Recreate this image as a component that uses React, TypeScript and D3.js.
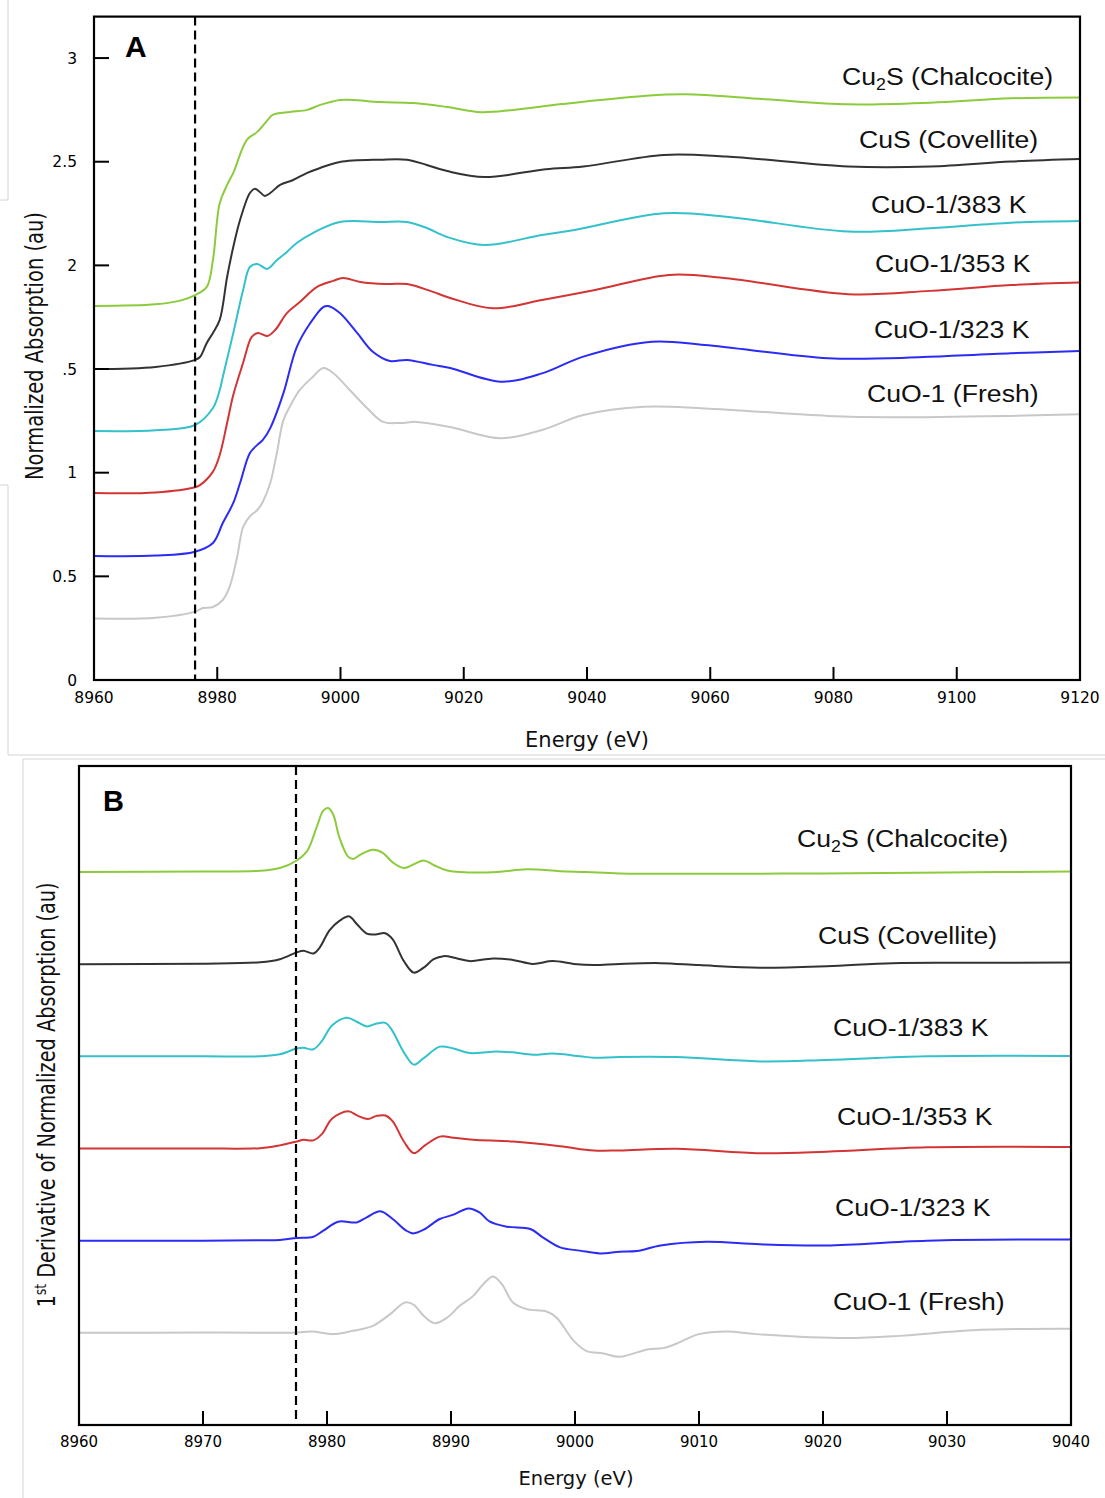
import React from 'react';
import * as d3 from 'd3';

// ---------- Series meta ----------
const seriesNames = ['Cu2S (Chalcocite)', 'CuS (Covellite)', 'CuO-1/383 K', 'CuO-1/353 K', 'CuO-1/323 K', 'CuO-1 (Fresh)'];
const seriesColors = ['#8CCB3C', '#333333', '#33C1CB', '#D33434', '#2B2BF5', '#C8C8C8'];

// ---------- Panel A: normalized absorption [energy eV, au] ----------
const absCu2S: [number, number][] = [
  [8960, 1.804], [8970, 1.812], [8974, 1.83], [8976.4, 1.857], [8978.3, 1.896], [8979.3, 2.026], [8980.4, 2.3],
  [8981.6, 2.388], [8982.6, 2.446], [8984.8, 2.605], [8986.5, 2.644], [8988.2, 2.702], [8989, 2.726], [8991.8, 2.74],
  [8994.6, 2.75], [8996.7, 2.774], [8999.9, 2.798], [9002, 2.798], [9006.4, 2.788], [9011.8, 2.783], [9017.3, 2.764],
  [9022.8, 2.739], [9028, 2.75], [9035.9, 2.778], [9049.2, 2.817], [9055.9, 2.825], [9069, 2.801], [9082.4, 2.777],
  [9095.7, 2.785], [9108.8, 2.806], [9120, 2.81],
];
const absCuS: [number, number][] = [
  [8960, 1.5], [8970, 1.51], [8976.4, 1.544], [8977.2, 1.558], [8978.3, 1.626], [8979.3, 1.674], [8980.4, 1.737],
  [8981.6, 1.944], [8982.6, 2.089], [8983.7, 2.219], [8985.3, 2.349], [8986.1, 2.369], [8986.9, 2.354], [8987.7, 2.335],
  [8988.6, 2.349], [8990.2, 2.388], [8992.3, 2.412], [8994.6, 2.446], [8996.7, 2.47], [8999.9, 2.499], [9006.4, 2.51],
  [9010.8, 2.51], [9014, 2.484], [9017.3, 2.455], [9023.4, 2.426], [9033.3, 2.464], [9039.4, 2.477], [9052.5, 2.533],
  [9062.6, 2.525], [9082.4, 2.477], [9095.7, 2.477], [9108.8, 2.501], [9120, 2.513],
];
const absCuO383: [number, number][] = [
  [8960, 1.201], [8970, 1.205], [8976.4, 1.23], [8979.3, 1.312], [8980.4, 1.399], [8980.9, 1.462], [8982.6, 1.674],
  [8984.2, 1.881], [8985.3, 1.992], [8986.5, 2.007], [8988.1, 1.983], [8989.7, 2.026], [8991.3, 2.065], [8992.9, 2.108],
  [8995.5, 2.156], [8999.9, 2.209], [9006.4, 2.209], [9010.8, 2.209], [9014, 2.18], [9017.3, 2.137], [9023.4, 2.098],
  [9032.7, 2.147], [9038, 2.171], [9052.5, 2.251], [9062.6, 2.235], [9082.4, 2.163], [9095.7, 2.179], [9108.8, 2.206],
  [9120, 2.214],
];
const absCuO353: [number, number][] = [
  [8960, 0.902], [8970, 0.905], [8976.4, 0.93], [8977.2, 0.94], [8979.3, 1.005], [8980.4, 1.085], [8981.6, 1.24],
  [8982.6, 1.375], [8984.2, 1.53], [8985.6, 1.655], [8986.6, 1.674], [8988.1, 1.659], [8989.4, 1.688], [8991.3, 1.77],
  [8993.4, 1.823], [8996.2, 1.896], [8998.8, 1.925], [9000.4, 1.939], [9003.2, 1.92], [9007.5, 1.91], [9010.8, 1.91],
  [9015, 1.872], [9017.8, 1.843], [9024.7, 1.793], [9032.7, 1.833], [9041.3, 1.881], [9053.3, 1.954], [9062.6, 1.938],
  [9082.4, 1.861], [9095.7, 1.877], [9108.8, 1.905], [9120, 1.917],
];
const absCuO323: [number, number][] = [
  [8960, 0.598], [8970, 0.6], [8976.4, 0.619], [8979.3, 0.661], [8980.9, 0.757], [8982.6, 0.854], [8983.7, 0.95],
  [8985.3, 1.095], [8986.5, 1.134], [8987.4, 1.158], [8988.6, 1.215], [8990.7, 1.38], [8992.9, 1.606], [8995.1, 1.722],
  [8997.2, 1.799], [8998, 1.804], [8999.9, 1.77], [9002.7, 1.674], [9005.3, 1.582], [9008, 1.539], [9010.8, 1.544],
  [9015, 1.52], [9017.8, 1.505], [9026, 1.439], [9032.7, 1.479], [9039.4, 1.56], [9050.5, 1.632], [9059.1, 1.616],
  [9079.1, 1.552], [9089, 1.552], [9108.8, 1.576], [9120, 1.587],
];
const absFresh: [number, number][] = [
  [8960, 0.297], [8970, 0.3], [8976.4, 0.33], [8977.7, 0.347], [8979.3, 0.352], [8980.9, 0.386], [8982, 0.449],
  [8983.2, 0.59], [8984.2, 0.738], [8985.3, 0.79], [8986.5, 0.82], [8987.4, 0.86], [8988.6, 0.95], [8989.7, 1.1],
  [8990.7, 1.25], [8991.8, 1.32], [8993.4, 1.399], [8995.5, 1.462], [8997.2, 1.505], [8998.8, 1.481], [9001.5, 1.399],
  [9004.3, 1.312], [9006.9, 1.245], [9009.7, 1.24], [9012.4, 1.245], [9017.8, 1.22], [9026, 1.166], [9032.7, 1.206],
  [9039.4, 1.278], [9049.2, 1.318], [9059.1, 1.31], [9079.1, 1.274], [9089, 1.267], [9108.8, 1.274], [9120, 1.282],
];

// ---------- Panel B: 1st derivative [energy eV, au] (before stacking offset) ----------
const derivCu2S: [number, number][] = [
  [8960, 0], [8970, 0.005], [8974.6, 0.013], [8976.2, 0.043], [8977.56, 0.125], [8978.4, 0.228], [8979.2, 0.499],
  [8979.7, 0.665], [8980.1, 0.694], [8980.5, 0.624], [8981, 0.374], [8981.7, 0.167], [8982.1, 0.141], [8982.7, 0.188],
  [8983.7, 0.242], [8984.5, 0.208], [8985.3, 0.104], [8986.2, 0.043], [8987, 0.084], [8987.8, 0.125], [8988.6, 0.076],
  [8989.7, 0.017], [8993.4, -0.003], [8996.1, 0.029], [8998.8, 0.009], [9000.9, 0], [9003.6, -0.015], [9010, -0.02],
  [9020, -0.015], [9030, -0.005], [9040, 0.005],
];
const derivCuS: [number, number][] = [
  [8960, 0], [8970, 0.005], [8974.6, 0.021], [8976.2, 0.054], [8977.56, 0.128], [8978.1, 0.145], [8978.9, 0.116],
  [8979.4, 0.178], [8980.2, 0.366], [8981, 0.469], [8981.8, 0.518], [8982.4, 0.436], [8983.2, 0.332], [8983.9, 0.323],
  [8984.7, 0.336], [8985.3, 0.269], [8986.2, 0.033], [8987, -0.092], [8987.8, -0.038], [8988.6, 0.054], [8989.4, 0.087],
  [8990.5, 0.062], [8991.5, 0.033], [8993.4, 0.062], [8995, 0.046], [8996.6, 0.003], [8998.2, 0.033], [8999.9, 0.003],
  [9001.5, -0.009], [9003.6, 0.003], [9006.9, 0.011], [9010, -0.01], [9014.9, -0.038], [9020.3, -0.022],
  [9025.6, 0.011], [9032, 0.015], [9040, 0.018],
];
const derivCuO383: [number, number][] = [
  [8960, 0], [8970, 0], [8974.6, 0.001], [8976.2, 0.022], [8977.56, 0.085], [8978.1, 0.093], [8978.9, 0.076],
  [8979.6, 0.168], [8980.4, 0.334], [8981.6, 0.418], [8982.4, 0.375], [8983.2, 0.325], [8984, 0.355], [8984.7, 0.363],
  [8985.2, 0.293], [8986.2, 0.043], [8987, -0.09], [8987.8, -0.02], [8989.1, 0.105], [8990.2, 0.085], [8991.5, 0.035],
  [8993.4, 0.051], [8995, 0.043], [8996.6, 0.018], [8998.2, 0.03], [9000.4, 0.001], [9001.5, -0.015], [9003.6, -0.007],
  [9008.2, -0.008], [9014.9, -0.055], [9020.3, -0.039], [9028.4, 0.001], [9040, 0.004],
];
const derivCuO353: [number, number][] = [
  [8960, 0], [8970, 0], [8974.6, 0.004], [8976.2, 0.034], [8977.56, 0.076], [8978.1, 0.095], [8978.9, 0.088],
  [8979.6, 0.158], [8980.4, 0.324], [8981.7, 0.403], [8982.5, 0.354], [8983.3, 0.32], [8984, 0.354], [8984.7, 0.358],
  [8985.3, 0.295], [8986.2, 0.076], [8987, -0.05], [8987.9, 0.034], [8989.1, 0.129], [8990.2, 0.117], [8991.8, 0.095],
  [8995, 0.076], [8998.8, 0.025], [9001.5, -0.022], [9003.6, -0.021], [9008.2, -0.003], [9014.9, -0.051],
  [9020.3, -0.035], [9028.4, 0.013], [9040, 0.017],
];
const derivCuO323: [number, number][] = [
  [8960, 0], [8970, 0], [8974.6, 0.005], [8976.2, 0.008], [8977.56, 0.029], [8978.9, 0.043], [8979.7, 0.108],
  [8980.9, 0.206], [8982.4, 0.198], [8983.2, 0.253], [8984.3, 0.318], [8985.3, 0.235], [8986.4, 0.108], [8986.96, 0.079],
  [8987.8, 0.119], [8989.1, 0.235], [8990.2, 0.282], [8991.4, 0.35], [8992.3, 0.307], [8993.1, 0.209], [8994.5, 0.152],
  [8996.4, 0.127], [8997.4, 0.036], [8998.8, -0.073], [9000.4, -0.108], [9002, -0.138], [9003.6, -0.12], [9005, -0.113],
  [9006.9, -0.052], [9010.6, -0.012], [9014.9, -0.04], [9020.3, -0.052], [9028.4, 0], [9040, 0.012],
];
const derivFresh: [number, number][] = [
  [8960, 0], [8970, 0.003], [8976.2, 0], [8977.56, 0.003], [8978.8, 0.014], [8980.5, -0.014], [8982.1, 0.022],
  [8983.7, 0.076], [8985.1, 0.203], [8986.3, 0.329], [8987, 0.304], [8987.8, 0.184], [8988.7, 0.105], [8989.7, 0.166],
  [8990.7, 0.293], [8991.8, 0.401], [8992.6, 0.528], [8993.4, 0.611], [8994.1, 0.528], [8995, 0.329], [8996.1, 0.257],
  [8997.7, 0.231], [8998.5, 0.166], [8999.9, -0.087], [9000.9, -0.195], [9002.3, -0.225], [9003.6, -0.26],
  [9005.9, -0.177], [9007.1, -0.166], [9008.2, -0.116], [9010, -0.014], [9012.3, 0.014], [9014.6, -0.014],
  [9021.9, -0.057], [9026.2, -0.033], [9032, 0.029], [9040, 0.043],
];

const stackOffsetsB = [6, 5, 4, 3, 2, 1];

// ---------- Axes ----------
const xTicksA = [8960, 8980, 9000, 9020, 9040, 9060, 9080, 9100, 9120];
const yTicksA = [0, 0.5, 1, 1.5, 2, 2.5, 3];
const yTickLabelsA = ['0', '0.5', '1', '.5', '2', '2.5', '3'];
const xTicksB = [8960, 8970, 8980, 8990, 9000, 9010, 9020, 9030, 9040];
const edgeLineA = 8976.4;
const edgeLineB = 8977.5;

const seriesA = [absCu2S, absCuS, absCuO383, absCuO353, absCuO323, absFresh];
const seriesB = [derivCu2S, derivCuS, derivCuO383, derivCuO353, derivCuO323, derivFresh];

// label anchor positions (screen layout)
const labelPosA = [[842, 85], [859, 148], [871, 213], [875, 272], [874, 338], [867, 402]];
const labelPosB = [[797, 847], [818, 944], [833, 1036], [837, 1125], [835, 1216], [833, 1310]];

const SANS = '"Liberation Sans", Arial, sans-serif';
const VERD = '"DejaVu Sans", Verdana, sans-serif';

function SeriesLabel({ name, x, y }: { name: string; x: number; y: number }) {
  const m = name.match(/^Cu2S(.*)$/);
  return (
    <text transform={`translate(${x},${y}) scale(1.11,1)`} fontFamily={SANS} fontSize={24} fill="#111">
      {m ? (
        <>
          <tspan>Cu</tspan>
          <tspan dy={5} fontSize={16}>2</tspan>
          <tspan dy={-5}>{'S' + m[1]}</tspan>
        </>
      ) : (
        name
      )}
    </text>
  );
}

export default function App() {
  const W = 1105, H = 1498;
  const xA = d3.scaleLinear().domain([8960, 9120]).range([94, 1080]);
  const yA = d3.scaleLinear().domain([0, 3.2]).range([680, 16.6]);
  const xB = d3.scaleLinear().domain([8960, 9040]).range([79, 1071]);
  const yB = d3.scaleLinear().domain([0, 7.15]).range([1425, 766]);

  const lineA = d3.line<[number, number]>().x(d => xA(d[0])).y(d => yA(d[1])).curve(d3.curveCatmullRom.alpha(0.5));

  const makeLineB = (off: number) =>
    d3.line<[number, number]>().x(d => xB(d[0])).y(d => yB(d[1] + off)).curve(d3.curveCatmullRom.alpha(0.5));

  const [ax0, ax1] = xA.range();
  const [ay0, ay1] = yA.range();
  const [bx0, bx1] = xB.range();
  const [by0, by1] = yB.range();

  return (
    <svg width={W} height={H} viewBox={`0 0 ${W} ${H}`} style={{ position: 'absolute', left: 0, top: 0, background: '#fff' }}>
      <rect x={0} y={0} width={W} height={H} fill="#fff" />
      {/* composite image borders */}
      <path d="M8,0 V200 H0" fill="none" stroke="#d4d4d4" strokeWidth={1} />
      <path d="M0,485 H8 V755 H1105" fill="none" stroke="#d4d4d4" strokeWidth={1} />
      <path d="M23,1498 V759 H1105" fill="none" stroke="#d4d4d4" strokeWidth={1} />

      {/* ===== Panel A ===== */}
      <g>
        {seriesA.map((s, i) => (
          <path key={i} d={lineA(s) || ''} fill="none" stroke={seriesColors[i]} strokeWidth={2} strokeLinejoin="round" />
        ))}
        <line x1={xA(edgeLineA)} x2={xA(edgeLineA)} y1={ay1} y2={ay0} stroke="#000" strokeWidth={2.2} strokeDasharray="9,5" />
        <rect x={ax0} y={ay1} width={ax1 - ax0} height={ay0 - ay1} fill="none" stroke="#000" strokeWidth={2.2} />
        {xTicksA.map(t => (
          <g key={t}>
            <line x1={xA(t)} x2={xA(t)} y1={ay0} y2={ay0 - 13} stroke="#000" strokeWidth={2} />
            <text x={xA(t)} y={703} textAnchor="middle" fontFamily={VERD} fontSize={15.5} fill="#000">{t}</text>
          </g>
        ))}
        {yTicksA.map((t, i) => (
          <g key={t}>
            <line x1={ax0} x2={ax0 + 15} y1={yA(t)} y2={yA(t)} stroke="#000" strokeWidth={2} />
            <text x={77} y={yA(t)} dy="0.36em" textAnchor="end" fontFamily={VERD} fontSize={15.5} fill="#000">{yTickLabelsA[i]}</text>
          </g>
        ))}
        <text x={587} y={747} textAnchor="middle" fontFamily={VERD} fontSize={21} fill="#111">Energy (eV)</text>
        <text transform={`translate(43,346) scale(1.25,1) rotate(-90)`} textAnchor="middle" fontFamily={VERD} fontSize={19.5} fill="#111">
          Normalized Absorption (au)
        </text>
        <text x={125} y={57} fontFamily={SANS} fontWeight="bold" fontSize={30} fill="#000">A</text>
        {seriesNames.map((n, i) => (
          <SeriesLabel key={n} name={n} x={labelPosA[i][0]} y={labelPosA[i][1]} />
        ))}
      </g>

      {/* ===== Panel B ===== */}
      <g>
        {seriesB.map((s, i) => (
          <path key={i} d={makeLineB(stackOffsetsB[i])(s) || ''} fill="none" stroke={seriesColors[i]} strokeWidth={2} strokeLinejoin="round" />
        ))}
        <line x1={xB(edgeLineB)} x2={xB(edgeLineB)} y1={by1} y2={by0} stroke="#000" strokeWidth={2.2} strokeDasharray="9,5" />
        <rect x={bx0} y={by1} width={bx1 - bx0} height={by0 - by1} fill="none" stroke="#000" strokeWidth={2.2} />
        {xTicksB.map(t => (
          <g key={t}>
            <line x1={xB(t)} x2={xB(t)} y1={by0} y2={by0 - 14} stroke="#000" strokeWidth={2} />
            <text x={xB(t)} y={1447} textAnchor="middle" fontFamily={VERD} fontSize={15} fill="#000">{t}</text>
          </g>
        ))}
        <text x={576} y={1485} textAnchor="middle" fontFamily={VERD} fontSize={19.5} fill="#111">Energy (eV)</text>
        <text transform={`translate(55,1095) scale(1.25,1) rotate(-90)`} textAnchor="middle" fontFamily={VERD} fontSize={19.3} fill="#111">
          <tspan>1</tspan>
          <tspan dy={-7} fontSize={12.5}>st</tspan>
          <tspan dy={7}> Derivative of Normalized Absorption (au)</tspan>
        </text>
        <text x={103} y={811} fontFamily={SANS} fontWeight="bold" fontSize={29} fill="#000">B</text>
        {seriesNames.map((n, i) => (
          <SeriesLabel key={n} name={n} x={labelPosB[i][0]} y={labelPosB[i][1]} />
        ))}
      </g>
    </svg>
  );
}
